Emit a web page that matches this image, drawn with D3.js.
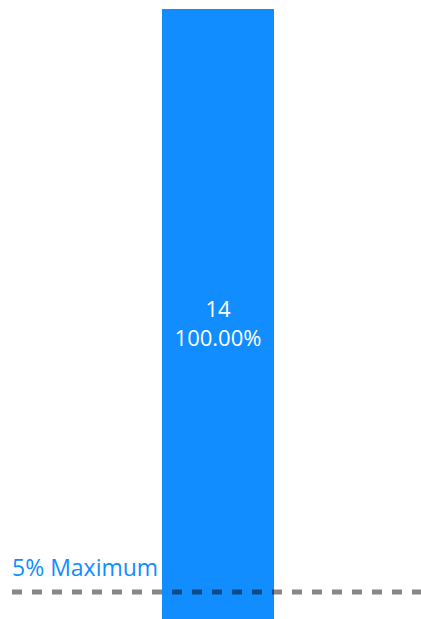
<!DOCTYPE html>
<html>
<head>
<meta charset="utf-8">
<script src="https://cdn.jsdelivr.net/npm/d3@7"></script>
<style>
html,body{margin:0;padding:0;background:#fff;overflow:hidden;}
svg{display:block;}
text{font-family:"Segoe UI","Open Sans","Noto Sans",sans-serif;}
</style>
</head>
<body>
<svg id="chart" width="421" height="619"></svg>
<script>
const categories = ["A"];
const values = [14];
const percentLabels = ["100.00%"];
const thresholdFraction = 0.05;
const thresholdLabel = "5% Maximum";

const W = 421, H = 619;
const svg = d3.select("#chart");

const x = d3.scaleBand().domain(categories).range([162, 274]).padding(0);
const maxV = d3.max(values);
const y = d3.scaleLinear().domain([0, maxV]).range([622.7, 9]);

const g = svg.append("g");

g.selectAll("rect.bar").data(values).join("rect")
  .attr("class","bar")
  .attr("x",(d,i)=>x(categories[i]))
  .attr("width",x.bandwidth())
  .attr("y",d=>y(d))
  .attr("height",d=>y(0)-y(d))
  .attr("fill","#118DFF");

const labels = g.selectAll("text.val").data(values).join("text")
  .attr("class","val")
  .attr("text-anchor","middle")
  .attr("fill","#ffffff")
  .attr("font-size",22);
labels.append("tspan")
  .attr("x",(d,i)=>x(categories[i])+x.bandwidth()/2)
  .attr("y",317)
  .text(d=>d);
labels.append("tspan")
  .attr("x",(d,i)=>x(categories[i])+x.bandwidth()/2)
  .attr("y",346)
  .text((d,i)=>percentLabels[i]);

const ty = y(maxV*thresholdFraction);
g.append("line")
  .attr("x1",12).attr("x2",W)
  .attr("y1",ty).attr("y2",ty)
  .attr("stroke","#000")
  .attr("stroke-opacity",0.47)
  .attr("stroke-width",5)
  .attr("stroke-dasharray","10,10");

g.append("text")
  .attr("x",12).attr("y",ty-16)
  .attr("fill","#118DFF")
  .attr("font-size",23)
  .text(thresholdLabel);
</script>
</body>
</html>
